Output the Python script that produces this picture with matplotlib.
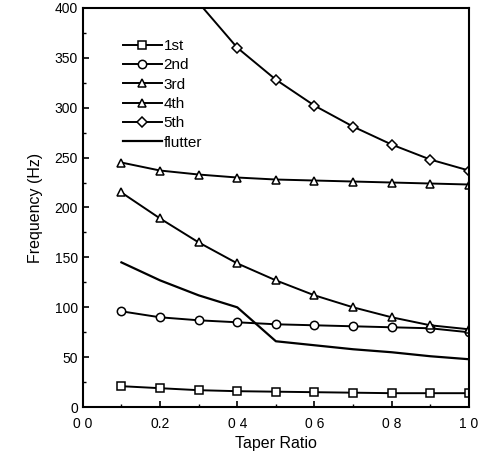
import numpy as np
import matplotlib
matplotlib.use("Agg")
import matplotlib.pyplot as plt

plt.rcParams['font.family'] = ['Liberation Sans', 'DejaVu Sans']

# taper ratio values
taper = [0.1, 0.2, 0.3, 0.4, 0.5, 0.6, 0.7, 0.8, 0.9, 1.0]

# frequencies (Hz)
f1 = [21, 19, 17, 16, 15.5, 15, 14.5, 14, 14, 14]
f2 = [96, 90, 87, 85, 83, 82, 81, 80, 79, 75]
f3 = [215, 189, 165, 144, 127, 112, 100, 90, 82, 78]
f4 = [245, 237, 233, 230, 228, 227, 226, 225, 224, 223]
f5 = [520, 458, 405, 360, 328, 302, 281, 263, 248, 237]
flutter = [145, 127, 112, 100, 66, 62, 58, 55, 51, 48]

xticks = [0.0, 0.2, 0.4, 0.6, 0.8, 1.0]
xticklabels = ['0 0', '0.2', '0 4', '0 6', '0 8', '1 0']
yticks = [0, 50, 100, 150, 200, 250, 300, 350, 400]

fig = plt.figure(figsize=(4.9, 4.58), dpi=100)
ax = fig.add_axes([0.169, 0.111, 0.788, 0.872])

mk = dict(color='black', lw=1.4, ms=6, mfc='white', mec='black', mew=1.1)
ax.plot(taper, f1, marker='s', label='1st', **mk)
ax.plot(taper, f2, marker='o', label='2nd', **mk)
ax.plot(taper, f3, marker='^', label='3rd', **mk)
ax.plot(taper, f4, marker='^', label='4th', **mk)
ax.plot(taper, f5, marker='D', label='5th', **dict(mk, ms=5))
ax.plot(taper, flutter, color='black', lw=1.6, label='flutter')

ax.set_xlim(0, 1.0)
ax.set_ylim(0, 400)
ax.set_xticks(xticks)
ax.set_xticklabels(xticklabels)
ax.set_yticks(yticks)
ax.set_xticks(np.arange(0.1, 1.0, 0.2), minor=True)
ax.set_yticks(np.arange(25, 400, 50), minor=True)
ax.tick_params(which='both', direction='in', top=False, right=False)
ax.tick_params(which='major', length=4, width=1.2, labelsize=10)
ax.tick_params(axis='x', which='major', pad=7)
ax.tick_params(which='minor', length=2.5, width=1)
for s in ax.spines.values():
    s.set_linewidth(1.5)

ax.set_xlabel('Taper Ratio', fontsize=11.5, labelpad=4)
ax.set_ylabel('Frequency (Hz)', fontsize=11.5, labelpad=8)

ax.legend(loc='upper left', bbox_to_anchor=(0.088, 0.9375), frameon=False,
          fontsize=11, handlelength=2.55, labelspacing=0.35, handletextpad=0.1,
          borderaxespad=0)

fig.savefig('out.png', dpi=100)
